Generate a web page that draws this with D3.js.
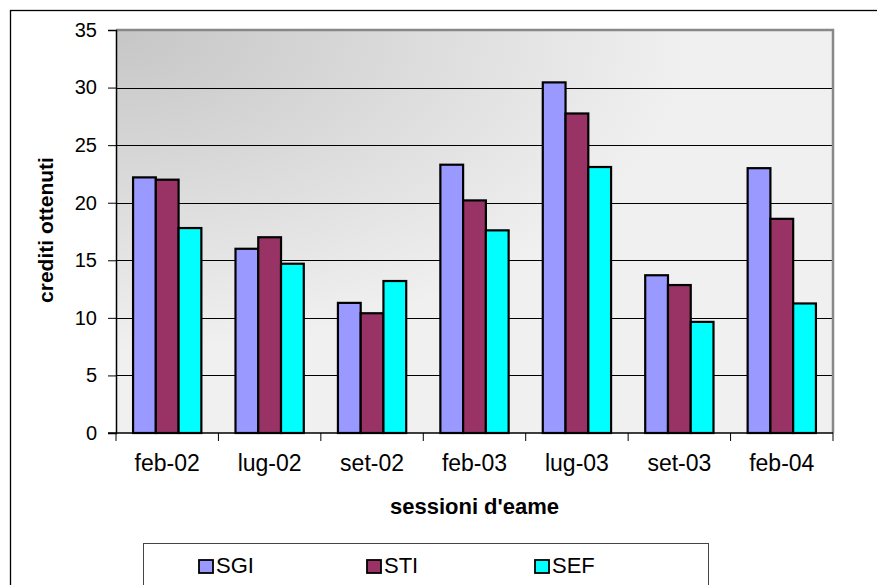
<!DOCTYPE html>
<html><head><meta charset="utf-8">
<script src="https://cdn.jsdelivr.net/npm/d3@7"></script>
<style>body{margin:0;background:#fff}svg{display:block;font-family:"Liberation Sans",Arial,sans-serif}</style>
</head><body>
<svg id="c" width="877" height="585"></svg>
<script>
const categories = ["feb-02","lug-02","set-02","feb-03","lug-03","set-03","feb-04"];
const seriesNames = ["SGI","STI","SEF"];
const SGI = [22.2, 16.0, 11.3, 23.3, 30.45, 13.7, 23.0];
const STI = [22.0, 17.0, 10.4, 20.2, 27.75, 12.85, 18.6];
const SEF = [17.8, 14.7, 13.2, 17.6, 23.1, 9.65, 11.25];
const colors = ["#9999FF","#993366","#00FFFF"];
const yTicks = [0,5,10,15,20,25,30,35];

const svg = d3.select("#c");
const L=116, R=833, T=30, B=433;
const FONT = "Liberation Sans, Arial, sans-serif";

// outer frame
svg.append("rect").attr("x",10.5).attr("y",10.5).attr("width",880).attr("height",600)
  .attr("fill","#fff").attr("stroke","#000").attr("stroke-width",1.3);

const defs = svg.append("defs");
const g = defs.append("radialGradient").attr("id","bg").attr("cx",0).attr("cy",0).attr("r",0.8).attr("fx",0).attr("fy",0);
g.append("stop").attr("offset","0%").attr("stop-color","#c6c6c6");
g.append("stop").attr("offset","100%").attr("stop-color","#f0f0f0");

svg.append("rect").attr("x",L).attr("y",T).attr("width",R-L).attr("height",B-T).attr("fill","url(#bg)");

const x = d3.scaleBand().domain(categories).range([L,R]).paddingInner(0).paddingOuter(0);
const y = d3.scaleLinear().domain([0,35]).range([B,T]);
const inner = d3.scaleBand().domain(seriesNames).range([0,x.bandwidth()]).paddingOuter(0.75).paddingInner(0);

// gridlines
svg.append("g").selectAll("line").data(yTicks.filter(d=>d>0&&d<35)).join("line")
  .attr("x1",L).attr("x2",R).attr("y1",d=>Math.round(y(d))+0.5).attr("y2",d=>Math.round(y(d))+0.5)
  .attr("stroke","#000").attr("stroke-width",1);

// plot border (gray)
svg.append("path").attr("d",`M${L},${T} H${R} V${B}`).attr("fill","none").attr("stroke","#888").attr("stroke-width",2.5);

// bars
const data = [SGI,STI,SEF];
categories.forEach((c,i)=>{
  seriesNames.forEach((s,j)=>{
    const v = data[j][i];
    svg.append("rect")
      .attr("x",x(c)+inner(s)).attr("y",y(v))
      .attr("width",inner.bandwidth()).attr("height",B-y(v))
      .attr("fill",colors[j]).attr("stroke","#000").attr("stroke-width",2.2);
  });
});

// axes
const ya = d3.axisLeft(y).tickValues(yTicks).tickSize(8).tickPadding(11);
const yg = svg.append("g").attr("transform",`translate(${L},0)`).call(ya);
yg.select(".domain").attr("stroke","#000").attr("stroke-width",1.5);
yg.selectAll("text").attr("font-size",20).attr("font-family",FONT).attr("fill","#000");

const xa = d3.axisBottom(x).tickSize(0).tickPadding(22);
const xg = svg.append("g").attr("transform",`translate(0,${B})`).call(xa);
xg.select(".domain").remove();
xg.append("line").attr("x1",L-8).attr("x2",R).attr("y1",0).attr("y2",0).attr("stroke","#000").attr("stroke-width",1.5);
xg.selectAll("text").attr("font-size",23).attr("font-family",FONT).attr("fill","#000");
const edges = categories.map(c=>x(c)).concat([x(categories[categories.length-1])+x.bandwidth()]);
xg.selectAll(".edge").data(edges).join("line").attr("class","edge")
  .attr("x1",d=>d).attr("x2",d=>d).attr("y1",0).attr("y2",8).attr("stroke","#000").attr("stroke-width",1);

// axis titles
svg.append("text").attr("transform",`translate(53,230) rotate(-90)`).attr("text-anchor","middle")
  .attr("font-size",21).attr("font-weight","bold").text("crediti ottenuti");
svg.append("text").attr("x",(L+R)/2).attr("y",514).attr("text-anchor","middle")
  .attr("font-size",22).attr("font-weight","bold").text("sessioni d'eame");

// legend
svg.append("rect").attr("x",143.5).attr("y",543.5).attr("width",565).attr("height",60)
  .attr("fill","#fff").attr("stroke","#444").attr("stroke-width",1);
const legX = [199, 367, 535];
seriesNames.forEach((s,j)=>{
  svg.append("rect").attr("x",legX[j]).attr("y",560).attr("width",14).attr("height",13)
    .attr("fill",colors[j]).attr("stroke","#000").attr("stroke-width",1.8);
  svg.append("text").attr("x",legX[j]+17).attr("y",573).attr("font-size",22).text(s);
});
</script>
</body></html>
